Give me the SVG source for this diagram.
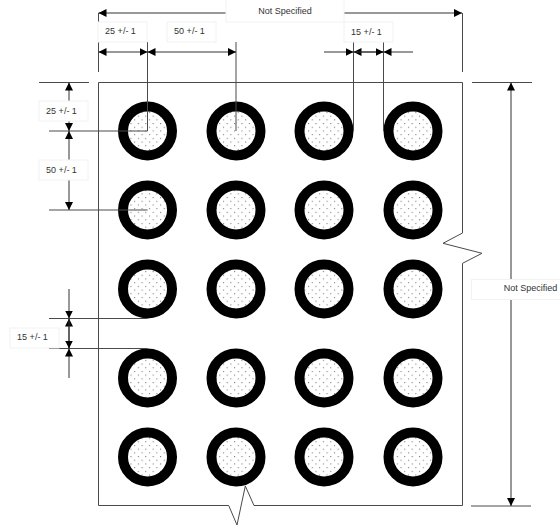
<svg xmlns="http://www.w3.org/2000/svg" width="560" height="528" viewBox="0 0 560 528">
<style>
.l{fill:none;stroke:#4a4a4a;stroke-width:1}
.d{fill:none;stroke:#333;stroke-width:1}
.b{fill:#fff;stroke:#f2f2f2;stroke-width:1}
.t{font-family:"Liberation Sans",Arial,sans-serif;font-size:9px;fill:#333;text-anchor:middle}
.r{fill:url(#dots);stroke:#000;stroke-width:10}
</style>
<defs>
<pattern id="dots" width="7.400" height="7.400" patternUnits="userSpaceOnUse">
<rect width="7.400" height="7.400" fill="#fff"/>
<rect x="1" y="1" width="1" height="1" fill="#666"/>
<rect x="4.700" y="4.700" width="1" height="1" fill="#666"/>
</pattern>
<marker id="a" viewBox="0 0 8 8" refX="8" refY="4" markerWidth="8" markerHeight="8" markerUnits="userSpaceOnUse" orient="auto-start-reverse"><path d="M0 0L8 4L0 8Z" fill="#000"/></marker>
</defs>
<rect width="560" height="528" fill="#fff"/>
<g id="nodes">
<g id="c11"><circle class="r" cx="147.500" cy="131" r="24.500"/></g>
<g id="c12"><circle class="r" cx="236" cy="131" r="24.500"/></g>
<g id="c13"><circle class="r" cx="324" cy="131" r="24.500"/></g>
<g id="c14"><circle class="r" cx="413" cy="131" r="24.500"/></g>
<g id="c21"><circle class="r" cx="147.500" cy="210" r="24.500"/></g>
<g id="c22"><circle class="r" cx="236" cy="210" r="24.500"/></g>
<g id="c23"><circle class="r" cx="324" cy="210" r="24.500"/></g>
<g id="c24"><circle class="r" cx="413" cy="210" r="24.500"/></g>
<g id="c31"><circle class="r" cx="147.500" cy="289" r="24.500"/></g>
<g id="c32"><circle class="r" cx="236" cy="289" r="24.500"/></g>
<g id="c33"><circle class="r" cx="324" cy="289" r="24.500"/></g>
<g id="c34"><circle class="r" cx="413" cy="289" r="24.500"/></g>
<g id="c41"><circle class="r" cx="147.500" cy="378" r="24.500"/></g>
<g id="c42"><circle class="r" cx="236" cy="378" r="24.500"/></g>
<g id="c43"><circle class="r" cx="324" cy="378" r="24.500"/></g>
<g id="c44"><circle class="r" cx="413" cy="378" r="24.500"/></g>
<g id="c51"><circle class="r" cx="147.500" cy="457" r="24.500"/></g>
<g id="c52"><circle class="r" cx="236" cy="457" r="24.500"/></g>
<g id="c53"><circle class="r" cx="324" cy="457" r="24.500"/></g>
<g id="c54"><circle class="r" cx="413" cy="457" r="24.500"/></g>
</g>
<g id="connectors">
<path class="l" d="M98.500 82.500H462.500V233L443 243.300L482 253.300L462.500 263.300V505.500H254L245.300 486L237 525L228.700 505.500H98.500Z"/>
<path class="l" d="M98.500 13V72M462.500 13V72M472 82.500H532M471 506H531M39 82.500H89M49 131H147.500V42M236 42V131M353.500 42V131M383.500 42V131M49 210H147.500M49 318.500H147.500M49 348.500H147.500"/>
<g class="d">
<path d="M98.500 13H462" marker-start="url(#a)" marker-end="url(#a)"/>
<path d="M98.500 52H147.500" marker-start="url(#a)" marker-end="url(#a)"/>
<path d="M147.500 52H236" marker-start="url(#a)" marker-end="url(#a)"/>
<path d="M324 52H353.500" marker-end="url(#a)"/>
<path d="M383.500 52H353.500" marker-end="url(#a)"/>
<path d="M353.500 52H383.500" marker-end="url(#a)"/>
<path d="M413 52H383.500" marker-end="url(#a)"/>
<path d="M69 82.500V131" marker-start="url(#a)" marker-end="url(#a)"/>
<path d="M69 131V210" marker-start="url(#a)" marker-end="url(#a)"/>
<path d="M69 289V318.500" marker-end="url(#a)"/>
<path d="M69 348.500V318.500" marker-end="url(#a)"/>
<path d="M69 318.500V348.500" marker-end="url(#a)"/>
<path d="M69 378V348.500" marker-end="url(#a)"/>
<path d="M511 82.500V506" marker-start="url(#a)" marker-end="url(#a)"/>
</g>
</g>
<g id="labels">
<g id="lbl-top"><rect class="b" x="226" y="-1" width="118" height="23"/><text class="t" x="285" y="14">Not Specified</text></g>
<g id="lbl-25h"><rect class="b" x="98" y="22" width="49" height="20"/><text class="t" x="120.500" y="34">25 +/- 1</text></g>
<g id="lbl-50h"><rect class="b" x="167" y="22" width="49" height="20"/><text class="t" x="189.500" y="34">50 +/- 1</text></g>
<g id="lbl-15h"><rect class="b" x="344" y="22" width="49" height="20"/><text class="t" x="366.500" y="35">15 +/- 1</text></g>
<g id="lbl-25v"><rect class="b" x="39" y="101" width="49" height="20"/><text class="t" x="61.500" y="114">25 +/- 1</text></g>
<g id="lbl-50v"><rect class="b" x="39" y="160" width="49" height="20"/><text class="t" x="61.500" y="173">50 +/- 1</text></g>
<g id="lbl-15v"><rect class="b" x="10" y="328" width="49" height="20"/><text class="t" x="32.500" y="340">15 +/- 1</text></g>
<g id="lbl-right"><rect class="b" x="471.500" y="279.500" width="90" height="20"/><text class="t" x="530.500" y="291">Not Specified</text></g>
</g>
</svg>
